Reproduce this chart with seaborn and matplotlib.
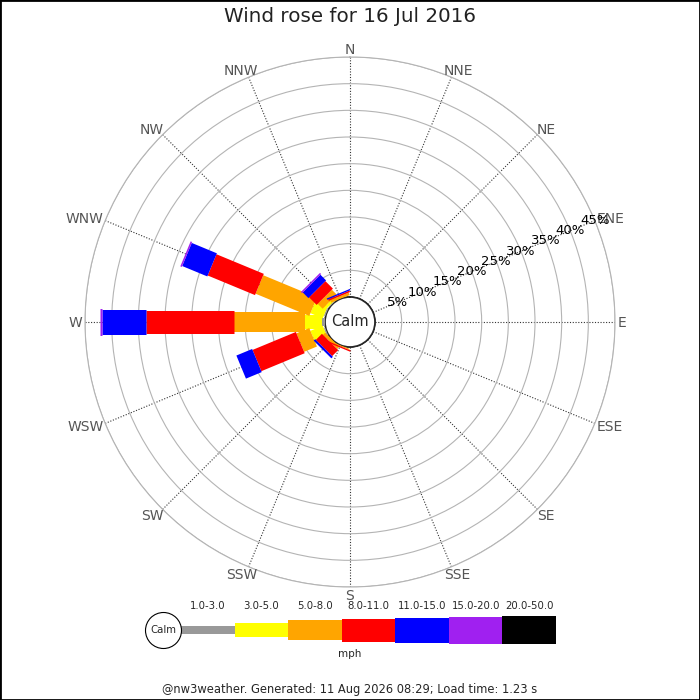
#!/usr/bin/env python3
"""Daily wind rose (16 Jul 2016) redrawn with seaborn/matplotlib."""

import matplotlib
matplotlib.use("Agg")
import matplotlib.pyplot as plt
import numpy as np
import pandas as pd
import seaborn as sns
from matplotlib.patches import Rectangle


DIRECTIONS = ["N", "NNE", "NE", "ENE", "E", "ESE", "SE", "SSE",
              "S", "SSW", "SW", "WSW", "W", "WNW", "NW", "NNW"]
SPEED_BINS = ["1.0-3.0", "3.0-5.0", "5.0-8.0", "8.0-11.0",
              "11.0-15.0", "15.0-20.0", "20.0-50.0"]
BIN_COLOURS = ["#999999", "#ffff00", "#ffa500", "#ff0000",
               "#0000ff", "#a020f0", "#000000"]

# share of the day (%) per direction N..NNW, one list per speed bin
PCT_1_3 = [0, 0, 0, 0, 0, 0, 0, 0, 0, 0, 0, 0.3, 0.5, 0.3, 0.2, 0]
PCT_3_5 = [0, 0, 0, 0, 0, 0, 0, 0, 0, 0, 0, 2.5, 3.3, 2.5, 0.5, 0]
PCT_5_8 = [0, 0, 0, 0, 0, 0, 0, 0, 0, 0.2, 0.6, 2.6, 13.3, 10.9, 1.3, 0.5]
PCT_8_11 = [0, 0, 0, 0, 0, 0, 0, 0, 0, 0.25, 1.6, 8.8, 16.5, 9.6, 2.0, 0.3]
PCT_11_15 = [0, 0, 0, 0, 0, 0, 0, 0, 0, 0, 0.4, 3.2, 8.2, 5.1, 1.5, 0.25]
PCT_15_20 = [0, 0, 0, 0, 0, 0, 0, 0, 0, 0, 0, 0, 0.3, 0.3, 0.3, 0]
PCT_20_50 = [0, 0, 0, 0, 0, 0, 0, 0, 0, 0, 0, 0, 0, 0, 0, 0]

RING_TICKS = [5, 10, 15, 20, 25, 30, 35, 40, 45]

TITLE = "Wind rose for 16 Jul 2016"
FOOTER = "@nw3weather. Generated: 11 Aug 2026 08:29; Load time: 1.23 s"

# bar thickness per speed bin, in pixels (fig is 700 px at dpi 100)
BAR_PX = [8, 14, 20, 23, 25, 27, 28]
PX_PER_PCT = 240 / 45


def _build_frame() -> pd.DataFrame:
    df = pd.DataFrame(
        {
            "direction": DIRECTIONS,
            SPEED_BINS[0]: PCT_1_3,
            SPEED_BINS[1]: PCT_3_5,
            SPEED_BINS[2]: PCT_5_8,
            SPEED_BINS[3]: PCT_8_11,
            SPEED_BINS[4]: PCT_11_15,
            SPEED_BINS[5]: PCT_15_20,
            SPEED_BINS[6]: PCT_20_50,
        }
    )
    df["theta"] = np.deg2rad(np.arange(len(DIRECTIONS)) * 22.5)
    return df


def _direction_labels(fig, ax, df: pd.DataFrame) -> None:
    # labels sit just outside the rim, pushed out by half their own box
    renderer = fig.canvas.get_renderer()
    r_anchor = (268 - 25) / PX_PER_PCT
    half_cap = 5.0
    for name, th in zip(df["direction"], df["theta"]):
        ux, uy = np.sin(th), np.cos(th)
        txt = ax.annotate(name, xy=(th, r_anchor), xytext=(0, 0),
                          textcoords="offset points", ha="center", va="baseline",
                          fontsize=10, color="#555555", annotation_clip=False)
        half_w = txt.get_window_extent(renderer).width / 2
        dx = half_w * ux
        dy = half_cap * uy - half_cap
        txt.set_position((dx * 0.72, dy * 0.72))


def _draw_rose(fig, df: pd.DataFrame) -> None:
    # outer ring (45%) at 265 px, r=0 at the 25 px calm circle
    ax = fig.add_axes([85 / 700, 113 / 700, 530 / 700, 530 / 700], projection="polar")
    ax.set_theta_zero_location("N")
    ax.set_theta_direction(-1)
    ax.set_ylim(0, 45)
    ax.set_rorigin(-45 * 25 / 240)
    ax.set_axisbelow(True)

    ax.set_xticks(df["theta"].to_numpy())
    ax.set_xticklabels([])
    ax.set_yticks(RING_TICKS)
    ax.set_yticklabels([])
    label_angle = np.deg2rad(67.5)
    for t in RING_TICKS:
        ax.text(label_angle, t, f"{t}%", ha="center", va="center",
                fontsize=9.5, color="black", zorder=4)
    ax.xaxis.grid(True, color="#333333", linestyle=(0, (1, 1.5)), linewidth=0.8)
    ax.yaxis.grid(True, color="#b4b4b4", linestyle="-", linewidth=0.8)
    for name, spine in ax.spines.items():
        if name == "polar":
            spine.set_color("#b4b4b4")
            spine.set_linewidth(0.8)
        else:
            spine.set_visible(False)
    _direction_labels(fig, ax, df)

    calm = plt.Circle((0.5, 0.5), 25 / 530, transform=ax.transAxes,
                      facecolor="white", edgecolor="black", linewidth=0.9, zorder=2.5)
    ax.add_patch(calm)
    ax.text(0.5, 0.5, "Calm", transform=ax.transAxes, ha="center", va="center",
            fontsize=10.5, zorder=5)

    base = np.zeros(len(df))
    theta = df["theta"].to_numpy()
    for label, colour, px in zip(SPEED_BINS, BIN_COLOURS, BAR_PX):
        vals = df[label].to_numpy(dtype=float)
        keep = vals > 0
        if keep.any():
            ax.vlines(theta[keep], base[keep], base[keep] + vals[keep],
                      colors=colour, linewidth=px * 0.72, capstyle="butt", zorder=3)
        base = base + vals


def _draw_key(fig) -> None:
    ax = fig.add_axes([181 / 700, 35 / 700, 375 / 700, 70 / 700])
    ax.set_xlim(0, len(SPEED_BINS))
    ax.set_ylim(-35, 35)
    ax.axis("off")
    heights = np.array(BAR_PX, dtype=float)
    pos = np.arange(len(SPEED_BINS)) + 0.5
    ax.bar(pos, heights, width=1.0, bottom=-heights / 2, color=BIN_COLOURS,
           linewidth=0)
    for x, label in zip(pos, SPEED_BINS):
        ax.text(x, 24, label, ha="center", va="center", fontsize=7.3)
    ax.scatter([-18 / 53.57], [0], s=(36 * 0.72) ** 2, facecolor="white",
               edgecolor="black", linewidth=0.8, clip_on=False, zorder=3)
    ax.text(-18 / 53.57, 0, "Calm", ha="center", va="center", fontsize=7.3, zorder=4)
    fig.text(0.5, 1 - 654 / 700, "mph", ha="center", va="center", fontsize=7.5)


def main() -> None:
    sns.set_theme(style="white")
    plt.rcParams["font.family"] = ["DejaVu Sans"]

    df = _build_frame()
    fig = plt.figure(figsize=(7, 7), dpi=100, facecolor="white")
    _draw_rose(fig, df)
    _draw_key(fig)

    fig.text(0.5, 1 - 17 / 700, TITLE, ha="center", va="center", fontsize=14.3,
             color="#222222")
    fig.text(0.5, 1 - 690 / 700, FOOTER, ha="center", va="center", fontsize=8.3)
    fig.patches.append(Rectangle((0, 0), 1, 1, transform=fig.transFigure,
                                 fill=False, edgecolor="black", linewidth=2))
    fig.savefig("out.png", dpi=100)
    plt.close(fig)


if __name__ == "__main__":
    main()
